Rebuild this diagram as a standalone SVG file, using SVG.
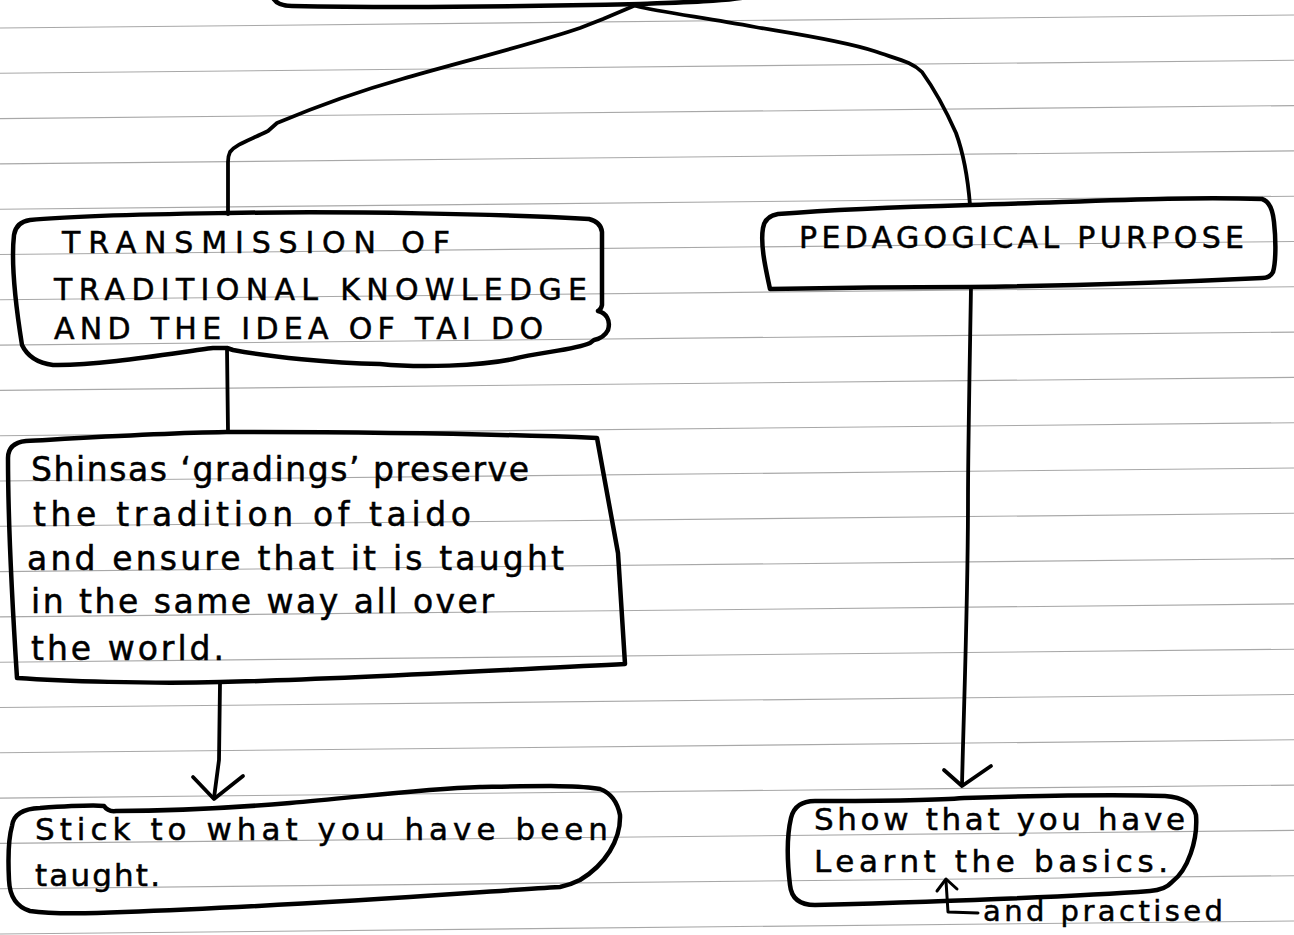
<svg xmlns="http://www.w3.org/2000/svg" width="1294" height="935" viewBox="0 0 1294 935">
  <style>
    .rule { stroke: #a8a8a8; stroke-width: 1.1; fill: none; }
    .box { fill: none; stroke: #000; stroke-width: 4.5; stroke-linejoin: round; stroke-linecap: round; }
    .wire { fill: none; stroke: #000; stroke-width: 3.8; stroke-linejoin: round; stroke-linecap: round; }
    text { fill: #000; stroke: #000; stroke-width: 0.5; font-family: "DejaVu Sans", "Liberation Sans", sans-serif; }
    .caps { font-size: 30px; }
    .hand { font-size: 33px; }
    .hand-s { font-size: 31px; }
    .note { font-size: 29px; }
  </style>

  <rect width="1294" height="935" fill="#fff" stroke="none"/>

  <!-- ruled notebook paper -->
  <g id="ruled-lines">
    <line class="rule" x1="0" y1="28" x2="1294" y2="15"/>
    <line class="rule" x1="0" y1="73.3" x2="1294" y2="60.3"/>
    <line class="rule" x1="0" y1="118.6" x2="1294" y2="105.6"/>
    <line class="rule" x1="0" y1="163.9" x2="1294" y2="150.9"/>
    <line class="rule" x1="0" y1="209.2" x2="1294" y2="196.2"/>
    <line class="rule" x1="0" y1="254.5" x2="1294" y2="241.5"/>
    <line class="rule" x1="0" y1="299.8" x2="1294" y2="286.8"/>
    <line class="rule" x1="0" y1="345.1" x2="1294" y2="332.1"/>
    <line class="rule" x1="0" y1="390.4" x2="1294" y2="377.4"/>
    <line class="rule" x1="0" y1="435.7" x2="1294" y2="422.7"/>
    <line class="rule" x1="0" y1="481" x2="1294" y2="468"/>
    <line class="rule" x1="0" y1="526.3" x2="1294" y2="513.3"/>
    <line class="rule" x1="0" y1="571.6" x2="1294" y2="558.6"/>
    <line class="rule" x1="0" y1="616.9" x2="1294" y2="603.9"/>
    <line class="rule" x1="0" y1="662.2" x2="1294" y2="649.2"/>
    <line class="rule" x1="0" y1="707.5" x2="1294" y2="694.5"/>
    <line class="rule" x1="0" y1="752.8" x2="1294" y2="739.8"/>
    <line class="rule" x1="0" y1="798.1" x2="1294" y2="785.1"/>
    <line class="rule" x1="0" y1="843.4" x2="1294" y2="830.4"/>
    <line class="rule" x1="0" y1="888.7" x2="1294" y2="875.7"/>
    <line class="rule" x1="0" y1="934" x2="1294" y2="921"/>
  </g>

  <!-- root box, only its lower edge is on the page -->
  <g id="node-root">
    <path class="box" d="M 272 -4 Q 276 6 292 6 C 400 8, 550 6, 640 4 C 690 2, 730 1, 752 -4"/>
  </g>

  <g id="connectors">
    <!-- root to the two branches -->
    <path class="wire" d="M 636 5 L 603 19 L 580 28 C 540 42, 450 65, 402 79 C 370 88, 320 105, 277 123 L 268 131 C 250 140, 236 144, 230 152 Q 228 156 228 162 L 228 214"/>
    <path class="wire" d="M 636 6 C 660 12, 700 17, 755 27 C 790 33, 840 40, 874 51 C 900 60, 912 62, 922 72 C 935 90, 948 115, 956 133 C 964 155, 968 180, 970 205"/>
    <!-- transmission to gradings -->
    <path class="wire" d="M 227 348 L 228 432"/>
    <!-- gradings to stick -->
    <path class="wire" d="M 220 683 L 219 760 L 214 798"/>
    <path class="wire" d="M 193 777 L 214 799 L 243 776"/>
    <!-- pedagogical to show -->
    <path class="wire" d="M 971 287 C 970 350, 968 450, 968 500 C 968 600, 964 700, 962 785"/>
    <path class="wire" d="M 944 770 L 962 786 L 991 766"/>
  </g>

  <g id="node-transmission">
    <path class="box" d="M 30 220 C 80 215, 160 214, 227 213 C 350 211, 500 214, 589 219 Q 601 222 602 232 L 602 305 Q 601 310 598 311 C 606 313, 611 320, 608 330 Q 604 338 594 340 L 590 343 C 575 350, 540 352, 513 359 C 480 366, 420 368, 380 364 C 330 363, 270 357, 233 350 L 227 348 L 213 348 C 180 352, 100 366, 53 365 Q 30 362 22 345 C 18 320, 10 270, 14 235 Q 16 222 30 220 Z"/>
    <text class="caps" x="62" y="253" textLength="388" lengthAdjust="spacing">TRANSMISSION OF</text>
    <text class="caps" x="54" y="300" textLength="533" lengthAdjust="spacing">TRADITIONAL KNOWLEDGE</text>
    <text class="caps" x="54" y="339" textLength="489" lengthAdjust="spacing">AND THE IDEA OF TAI DO</text>
  </g>

  <g id="node-pedagogical">
    <path class="box" d="M 778 214 C 830 210, 900 207, 970 205 C 1080 202, 1180 196, 1262 199 Q 1272 202 1274 222 C 1276 240, 1276 262, 1273 272 Q 1270 278 1262 278 C 1180 282, 1060 286, 970 287 C 900 287, 820 288, 770 289 C 766 270, 760 245, 763 228 Q 765 216 778 214 Z"/>
    <text class="caps" x="799" y="248" textLength="445" lengthAdjust="spacing">PEDAGOGICAL PURPOSE</text>
  </g>

  <g id="node-gradings">
    <path class="box" d="M 8 458 Q 8 443 26 441 C 80 438, 160 433, 226 432 C 350 432, 500 434, 597 438 L 618 553 L 625 664 C 500 670, 330 680, 220 682 C 150 684, 60 681, 17 678 C 12 600, 8 520, 8 458 Z"/>
    <text class="hand" x="31" y="481" textLength="498" lengthAdjust="spacing">Shinsas ‘gradings’ preserve</text>
    <text class="hand" x="33" y="526" textLength="438" lengthAdjust="spacing">the tradition of taido</text>
    <text class="hand" x="27" y="570" textLength="537" lengthAdjust="spacing">and ensure that it is taught</text>
    <text class="hand" x="31" y="613" textLength="463" lengthAdjust="spacing">in the same way all over</text>
    <text class="hand" x="31" y="660" textLength="193" lengthAdjust="spacing">the world.</text>
  </g>

  <g id="node-stick">
    <path class="box" d="M 12 826 Q 14 809 40 808 C 70 806, 95 805, 104 806 Q 108 812 116 811 C 170 811, 230 808, 290 803 C 360 797, 420 789, 480 787 C 540 786, 580 785, 600 789 Q 616 795 620 815 C 621 840, 605 865, 580 880 Q 570 885 560 887 C 460 893, 300 906, 124 912 C 80 914, 50 914, 30 911 Q 10 905 9 880 C 8 860, 8 840, 12 826 Z"/>
    <text class="hand-s" x="35" y="840" textLength="573" lengthAdjust="spacing">Stick to what you have been</text>
    <text class="hand-s" x="35" y="886" textLength="125" lengthAdjust="spacing">taught.</text>
  </g>

  <g id="node-show">
    <path class="box" d="M 791 818 Q 795 801 815 801 C 870 801, 930 801, 964 798 C 1030 796, 1100 794, 1165 796 Q 1192 798 1196 815 C 1198 840, 1188 870, 1172 882 Q 1165 890 1150 891 C 1060 898, 920 902, 815 905 Q 792 905 790 885 C 787 860, 787 835, 791 818 Z"/>
    <text class="hand-s" x="814" y="830" textLength="371" lengthAdjust="spacing">Show that you have</text>
    <text class="hand-s" x="814" y="872" textLength="354" lengthAdjust="spacing">Learnt the basics.</text>
    <!-- insertion mark for the added words -->
    <path class="wire" style="stroke-width:3" d="M 946 881 L 948 912 L 978 913"/>
    <path class="wire" style="stroke-width:3" d="M 937 891 L 946 879 L 957 889"/>
    <text class="note" x="983" y="921" textLength="240" lengthAdjust="spacing">and practised</text>
  </g>
</svg>
